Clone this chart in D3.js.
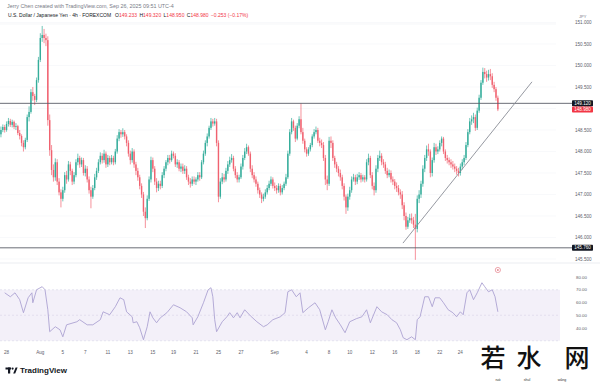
<!DOCTYPE html>
<html><head><meta charset="utf-8">
<script src="https://cdn.jsdelivr.net/npm/d3@7"></script>
<style>html,body{margin:0;padding:0;background:#fff;overflow:hidden}svg{display:block}</style>
</head><body><svg id="c" width="600" height="383"></svg>
<script>
// ---- data (USD/JPY 4h, FOREXCOM) ----
const firstOpen = 148.40;
const closes = [
148.50,148.57,148.50,148.64,148.71,148.62,148.69,148.57,148.59,148.43,
148.36,148.20,148.10,148.27,148.80,148.92,149.38,149.29,149.20,149.66,
150.13,150.64,150.71,150.64,150.59,148.73,148.03,147.57,147.40,147.75,
147.30,147.05,146.90,147.10,147.45,147.35,147.70,147.55,147.30,147.45,
147.75,147.85,147.70,147.80,147.50,147.60,147.35,147.10,146.95,147.15,
147.40,147.55,147.75,147.90,147.80,147.95,147.70,147.85,147.75,147.85,
147.75,148.00,148.30,148.45,148.40,148.45,148.35,148.20,147.95,147.80,
148.00,147.70,147.55,147.40,147.20,147.00,146.60,146.45,146.90,147.35,
147.80,147.60,147.30,147.15,147.25,147.20,147.45,147.60,147.75,147.85,
147.80,147.95,147.90,147.70,147.75,147.60,147.65,147.55,147.60,147.40,
147.30,147.25,147.35,147.30,147.35,147.45,147.40,147.75,147.95,148.20,
148.35,148.55,148.70,148.65,148.70,148.20,146.95,147.30,147.40,147.35,
147.55,147.70,147.80,147.85,147.60,147.45,147.35,147.40,147.65,147.85,
148.00,148.10,147.95,147.60,147.45,147.35,147.25,147.10,147.00,146.90,
146.95,147.05,147.15,147.25,147.35,147.20,147.15,147.10,147.20,147.05,
147.15,147.25,147.40,147.95,148.45,148.70,148.55,148.30,148.60,148.75,
148.45,148.25,148.05,147.95,148.05,148.15,148.35,148.45,148.50,148.25,
148.20,148.15,147.85,147.35,147.25,148.25,148.20,147.85,147.70,147.60,
147.50,147.40,147.20,146.95,146.70,146.95,147.10,147.35,147.40,147.30,
147.40,147.45,147.35,147.40,147.35,147.75,147.85,147.45,147.20,147.10,
147.60,147.85,147.90,147.75,147.70,147.55,147.45,147.50,147.35,147.30,
147.20,147.15,147.05,147.00,146.75,146.50,146.25,146.40,146.45,146.40,
146.30,146.20,146.90,147.00,147.25,147.60,147.85,148.05,148.00,147.50,
147.80,148.10,148.00,148.05,148.20,148.30,148.00,147.85,147.80,147.75,
147.70,147.65,147.60,147.55,147.50,147.65,147.75,147.85,148.15,148.45,
148.70,148.75,148.80,148.55,148.95,149.25,149.60,149.85,149.80,149.72,
149.80,149.75,149.55,149.45,149.25,148.98];
const highs = [
148.58,148.63,148.62,148.70,148.78,148.76,148.74,148.72,148.66,148.62,
148.50,148.40,148.26,148.32,148.86,149.05,149.45,149.50,149.34,149.72,
150.20,150.75,150.92,150.85,150.74,150.68,148.86,148.15,147.70,147.84,
147.82,147.38,147.12,147.18,147.52,147.55,147.78,147.76,147.60,147.52,
147.82,147.95,147.90,147.86,147.85,147.68,147.66,147.42,147.18,147.22,
147.48,147.62,147.82,147.98,147.96,148.04,148.00,147.92,147.90,147.92,
147.90,148.06,148.38,148.52,148.50,148.54,148.50,148.40,148.26,148.02,
148.08,148.05,147.76,147.62,147.46,147.26,147.06,146.70,146.98,147.42,
147.88,147.86,147.66,147.38,147.32,147.32,147.52,147.66,147.80,147.92,
147.92,148.02,148.00,147.96,147.82,147.80,147.72,147.72,147.68,147.66,
147.46,147.38,147.42,147.42,147.40,147.52,147.52,147.80,148.02,148.26,
148.42,148.60,148.78,148.76,148.78,148.76,148.26,147.38,147.50,147.48,
147.62,147.78,147.88,147.94,147.90,147.66,147.52,147.46,147.72,147.92,
148.08,148.18,148.14,148.00,147.68,147.52,147.42,147.30,147.16,147.05,
147.02,147.12,147.22,147.32,147.42,147.40,147.28,147.22,147.26,147.25,
147.22,147.30,147.48,148.02,148.52,148.78,148.74,148.60,148.66,148.82,
149.12,148.55,148.30,148.10,148.10,148.20,148.40,148.52,148.58,148.55,
148.32,148.28,148.22,147.92,147.44,148.34,148.35,148.26,147.90,147.76,
147.66,147.58,147.46,147.26,147.00,147.02,147.18,147.42,147.48,147.46,
147.48,147.52,147.50,147.46,147.45,147.82,147.95,147.90,147.52,147.28,
147.68,147.92,148.02,147.96,147.82,147.76,147.62,147.58,147.56,147.42,
147.36,147.28,147.22,147.12,147.08,146.82,146.58,146.48,146.55,146.56,
146.48,146.55,146.98,147.10,147.32,147.68,147.92,148.14,148.18,148.05,
147.86,148.20,148.18,148.12,148.26,148.35,148.34,148.05,147.92,147.86,
147.82,147.78,147.72,147.66,147.62,147.72,147.82,147.92,148.22,148.52,
148.78,148.84,148.90,148.86,149.02,149.32,149.66,149.95,149.94,149.88,
149.90,149.92,149.82,149.62,149.50,149.30];
const lows = [
148.33,148.45,148.44,148.46,148.58,148.57,148.56,148.52,148.50,148.38,
148.28,148.12,148.00,148.05,148.22,148.70,148.88,149.18,149.08,149.15,
149.60,150.08,150.55,150.52,150.45,148.60,147.90,147.45,147.30,147.32,
147.22,146.98,146.70,146.84,147.04,147.25,147.30,147.45,147.22,147.24,
147.40,147.68,147.62,147.64,147.44,147.42,147.28,147.02,146.68,146.90,
147.10,147.34,147.50,147.70,147.72,147.74,147.62,147.64,147.68,147.70,
147.68,147.70,147.95,148.24,148.32,148.34,148.28,148.12,147.88,147.70,
147.74,147.62,147.45,147.32,147.12,146.92,146.50,146.22,146.40,146.85,
147.28,147.52,147.22,147.05,147.08,147.12,147.15,147.38,147.54,147.68,
147.72,147.76,147.84,147.64,147.62,147.54,147.52,147.48,147.48,147.34,
147.22,147.16,147.20,147.24,147.22,147.30,147.32,147.36,147.70,147.90,
148.12,148.30,148.50,148.58,148.60,148.12,146.82,146.90,147.24,147.28,
147.30,147.48,147.64,147.74,147.54,147.38,147.28,147.28,147.36,147.58,
147.80,147.94,147.90,147.52,147.38,147.28,147.18,147.02,146.92,146.80,
146.84,146.90,147.00,147.10,147.20,147.14,147.08,147.02,147.04,146.98,
147.00,147.10,147.20,147.36,147.90,148.40,148.48,148.22,148.26,148.54,
148.40,148.18,147.98,147.88,147.90,148.00,148.10,148.30,148.40,148.20,
148.12,148.08,147.78,147.22,147.10,147.20,148.08,147.78,147.62,147.52,
147.42,147.32,147.12,146.86,146.55,146.62,146.88,147.04,147.30,147.22,
147.24,147.34,147.28,147.30,147.28,147.30,147.68,147.38,147.12,146.98,
147.04,147.52,147.78,147.68,147.62,147.48,147.38,147.40,147.28,147.22,
147.12,147.06,146.98,146.90,146.66,146.40,146.18,146.20,146.34,146.32,
146.22,145.48,146.12,146.80,146.92,147.18,147.52,147.78,147.90,147.40,
147.42,147.74,147.92,147.94,148.00,148.12,147.94,147.78,147.72,147.68,
147.62,147.58,147.52,147.46,147.42,147.44,147.58,147.68,147.80,148.10,
148.40,148.62,148.66,148.48,148.50,148.90,149.20,149.55,149.70,149.62,
149.65,149.66,149.48,149.38,149.18,148.94];

const levels = [149.12, 145.76];
const lastPrice = 148.98;
const trendBars = [214.4, 283.2];
const trendPrices = [145.87, 149.62];
const priceTicks = [151.0,150.5,150.0,149.5,149.0,148.5,148.0,147.5,147.0,146.5,146.0,145.5];
const timeTickBars = [3,21,33,45,57,69,81,92,104,116,128,146,163,175,186,198,210,222,234,245];
const timeTickLabels = ["28","Aug","5","7","11","13","15","19","21","25","27","Sep","4","8","10","12","16","18","22","24"];
const rsiBars = [2,5,7.5,10,12,14.5,16.5,17,19,22,23.5,25,26,29,31.5,33,35,40.5,42,46,49,53,54.5,58,61,63.5,65.5,67,70,70.5,72.5,74,76,78,79.5,81,83,85,88.5,92,95.5,99,102,102.5,105,108,110.5,112,113,114,115,118,120.5,122,124,126,127.5,130,133,136.5,140,142,145,149,151.5,153,155,157.5,159.5,161,164,167.5,170,173,174.5,176.5,178.5,181,183.5,186,189.5,192.5,195,197,200.5,203,206,208.5,211,213,214.5,216.5,219,221,222,223.5,226,228,230,231.5,234,236,238.5,241,243,245,246.5,248.5,250,252,254,256.5,258,260,262,263.5,265];
const rsiValues = [67.6,64.5,67.6,62.2,52,63.7,67.6,59.8,70,72.4,70,54.3,37.1,41,38.6,33.1,42.5,44.9,46.5,42.5,42.5,46.5,52.7,50.4,56.7,63.7,62.2,52.7,48.8,44.1,44.9,40.2,30.8,41,52.7,48,44.1,48,52,58.2,55.9,52.7,48,42.5,48.8,59.8,70,71.6,64.5,46.5,37.1,44.9,48.8,52,48,52,48,54.3,49.6,44.9,41,42.5,46.5,48.8,52,68.4,70,64.5,67.6,52,55.9,59.8,54.3,38.6,44.9,54.3,48,42.5,36.3,44.9,47.3,48.8,54.3,44.1,56.7,52.7,50.4,46.5,44.1,38.6,32.4,30.8,33.1,30.8,46.5,48.8,64.5,64.5,56.7,63.7,63.7,59.8,54.3,52,48.8,52.7,50.4,67.6,70,62.2,67.6,75.5,72.4,68.4,70,64.5,52.7];
const rsiTicks = [80,70,60,50,40];
const titleLine1 = "Jerry Chen created with TradingView.com, Sep 26, 2025 09:51 UTC-4";
const symbolText = "U.S. Dollar / Japanese Yen · 4h · FOREXCOM";
const ohlcParts = [["O","149.233"],["H","149.320"],["L","148.950"],["C","148.980"],["","−0.253 (−0.17%)"]];

// ---- layout ----
const svg = d3.select("#c");
const FONT = "'Liberation Sans', Arial, sans-serif";
const UP = "#35ad9b", DOWN = "#f06270";
const plotRight = 556, axisX = 575;
const mainTop = 24, rsiTop = 264;

const x = d3.scaleLinear().domain([-0.5, 296]).range([0, plotRight]);
const y = d3.scaleLinear().domain([145.5, 150.5]).range([259, 44]);
const yR = d3.scaleLinear().domain([40, 80]).range([328, 277]);

svg.append("rect").attr("width",600).attr("height",383).attr("fill","#fff");

// header
svg.append("text").attr("x",7).attr("y",7.5).attr("font-family",FONT).attr("font-size",5.4)
  .attr("fill","#787b86").text(titleLine1);
const t2 = svg.append("text").attr("x",8).attr("y",16.8).attr("font-family",FONT).attr("font-size",5);
t2.append("tspan").attr("fill","#131722").text(symbolText);
ohlcParts.forEach((p,k)=>{
  const dx = k===0 ? 4 : 2.4;
  if(p[0]) {
    t2.append("tspan").attr("dx",dx).attr("fill","#131722").text(p[0]);
    t2.append("tspan").attr("fill","#f23645").text(p[1]);
  } else {
    t2.append("tspan").attr("dx",dx).attr("fill","#f23645").text(p[1]);
  }
});
svg.append("text").attr("x",579).attr("y",18).attr("font-family",FONT).attr("font-size",4)
  .attr("fill","#787b86").text("JPY");

// faint grid
svg.append("g").selectAll("line").data(priceTicks).join("line")
  .attr("x1",0).attr("x2",plotRight).attr("y1",d=>y(d)).attr("y2",d=>y(d))
  .attr("stroke","#f4f5f8").attr("stroke-width",0.6);

// pane separators
svg.append("line").attr("x1",0).attr("x2",600).attr("y1",rsiTop-1).attr("y2",rsiTop-1).attr("stroke","#e6e8ee").attr("stroke-width",0.8);
svg.append("line").attr("x1",0).attr("x2",plotRight).attr("y1",mainTop).attr("y2",mainTop).attr("stroke","#eef0f4").attr("stroke-width",0.6);

// candles
const data = closes.map((c,i)=>({i, o: i? closes[i-1] : firstOpen, h: highs[i], l: lows[i], c}));
const cg = svg.append("g");
cg.selectAll("line.w").data(data).join("line").attr("class","w")
  .attr("x1",d=>x(d.i)).attr("x2",d=>x(d.i)).attr("y1",d=>y(d.h)).attr("y2",d=>y(d.l))
  .attr("stroke",d=>d.c>=d.o?UP:DOWN).attr("stroke-width",0.7);
cg.selectAll("rect").data(data).join("rect")
  .attr("x",d=>x(d.i)-0.7).attr("width",1.4)
  .attr("y",d=>y(Math.max(d.o,d.c)))
  .attr("height",d=>Math.max(0.6, Math.abs(y(d.o)-y(d.c))))
  .attr("fill",d=>d.c>=d.o?UP:DOWN);

// horizontal levels
svg.append("g").selectAll("line").data(levels).join("line")
  .attr("x1",0).attr("x2",572).attr("y1",d=>y(d)).attr("y2",d=>y(d))
  .attr("stroke","#5a5d68").attr("stroke-width",0.9);

// trendline
svg.append("line").attr("x1",x(trendBars[0])).attr("y1",y(trendPrices[0]))
  .attr("x2",x(trendBars[1])).attr("y2",y(trendPrices[1]))
  .attr("stroke","#8a8d96").attr("stroke-width",0.9);

// price axis
svg.append("g").selectAll("text").data(priceTicks).join("text")
  .attr("x",axisX).attr("y",d=>y(d)+1.6).attr("font-family",FONT).attr("font-size",4.6)
  .attr("fill","#5d606b").text(d=>d3.format(".3f")(d));

function priceBox(v, fill, yy){
  const g = svg.append("g");
  g.append("rect").attr("x",572).attr("y",yy-3).attr("width",21).attr("height",6).attr("rx",0.8).attr("fill",fill);
  g.append("text").attr("x",582.5).attr("y",yy+1.6).attr("text-anchor","middle").attr("font-family",FONT)
    .attr("font-size",4.6).attr("fill","#fff").text(d3.format(".3f")(v));
}
priceBox(levels[0], "#131722", y(levels[0]));
priceBox(lastPrice, "#f23645", Math.max(y(lastPrice), y(levels[0])+6.2));
priceBox(levels[1], "#131722", y(levels[1]));

// RSI pane
svg.append("rect").attr("x",0).attr("width",plotRight+4).attr("y",yR(70)).attr("height",yR(30)-yR(70))
  .attr("fill","#7e57c2").attr("fill-opacity",0.09);
[70,50,30].forEach(v=>{
  svg.append("line").attr("x1",0).attr("x2",plotRight+4).attr("y1",yR(v)).attr("y2",yR(v))
    .attr("stroke","#d3cfe4").attr("stroke-width",0.5).attr("stroke-dasharray","2,2");
});
const rsiPts = rsiBars.map((b,i)=>[b, rsiValues[i]]);
svg.append("path").datum(rsiPts)
  .attr("d", d3.line().x(d=>x(d[0])).y(d=>yR(d[1])))
  .attr("fill","none").attr("stroke","#ada3d2").attr("stroke-width",0.9);
svg.append("g").selectAll("text").data(rsiTicks).join("text")
  .attr("x",axisX+1).attr("y",d=>yR(d)+1.6).attr("font-family",FONT).attr("font-size",4.4)
  .attr("fill","#5d606b").text(d=>d3.format(".2f")(d));

// event marker
svg.append("circle").attr("cx",x(265)).attr("cy",270).attr("r",2.6).attr("fill","#fff")
  .attr("stroke","#e57f8a").attr("stroke-width",0.7);
svg.append("circle").attr("cx",x(265)).attr("cy",270).attr("r",0.9).attr("fill","#e57f8a");

// time axis
svg.append("g").selectAll("text").data(timeTickBars).join("text")
  .attr("x",d=>x(d)).attr("y",354).attr("text-anchor","middle").attr("font-family",FONT)
  .attr("font-size",4.6).attr("fill","#5d606b").text((d,i)=>timeTickLabels[i]);

// TradingView logo
const lg = svg.append("g").attr("fill","#131722");
lg.append("rect").attr("x",5.5).attr("y",367.5).attr("width",5.5).attr("height",2);
lg.append("rect").attr("x",8).attr("y",367.5).attr("width",2.2).attr("height",6);
lg.append("circle").attr("cx",12.6).attr("cy",368.6).attr("r",1.1);
lg.append("path").attr("d","M13.2 373.5 L15.6 367.5 L17.6 367.5 L15.2 373.5 Z");
svg.append("text").attr("x",20).attr("y",373.4).attr("font-family",FONT).attr("font-size",8)
  .attr("font-weight",700).attr("fill","#131722").text("TradingView");

// watermark
const wm = [["若",493],["水",529],["网",577]];
wm.forEach(w=>{
  svg.append("text").attr("x",w[1]).attr("y",367).attr("text-anchor","middle")
    .attr("font-family","'Noto Sans CJK SC', sans-serif").attr("font-size",25).attr("font-weight",500)
    .attr("fill","#111").text(w[0]);
});
[["ruò",498],["shuǐ",527],["wǎng",562]].forEach(w=>{
  svg.append("text").attr("x",w[1]).attr("y",381).attr("text-anchor","middle").attr("font-family",FONT)
    .attr("font-size",3.6).attr("fill","#333").text(w[0]);
});
</script></body></html>
